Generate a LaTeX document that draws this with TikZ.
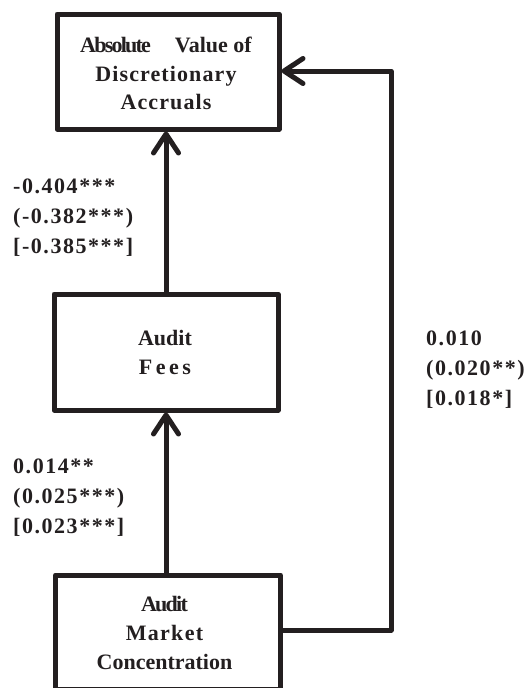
\documentclass[tikz,border=0pt]{standalone}
\usepackage{fontspec}
\setmainfont{Liberation Serif}
\usetikzlibrary{arrows.meta}
\definecolor{ink}{HTML}{231F20}
% letter-spaced run of text
\newcommand\trk[2]{{\addfontfeature{LetterSpace=#1}#2}}
\tikzset{
  boxframe/.style={draw=ink, line width=5pt, line join=round, minimum width=#1},
  boxtext/.style={anchor=base, inner sep=0pt, text=ink, font=\bfseries\fontsize{22}{29}\selectfont},
  coef/.style={anchor=base west, inner sep=0pt, text=ink, font=\bfseries\fontsize{22}{30}\selectfont},
  link/.style={draw=ink, line width=5pt, line join=round,
    -{Straight Barb[length=19pt,width=25pt,round]}}
}
\begin{document}
\begin{tikzpicture}[x=1pt,y=-1pt]
\useasboundingbox (0,0) rectangle (525,688);
\clip (0,0) rectangle (525,688);

% boxes
\node[boxframe=222pt, minimum height=115pt] (dacc) at (168,71.5) {};
\node[boxframe=224pt, minimum height=116pt] (fees) at (166,352) {};
\node[boxframe=225pt, minimum height=114.5pt, anchor=north] (amc) at (167.8,572.5) {};

% box texts
\node[boxtext] (dacctext) at (166,52) {\begin{tabular}[t]{@{}c@{}}
  \trk{-8}{Absolute}\hspace{24pt}Value of\\
  \trk{5}{Discretionary}\\
  \trk{5}{Accruals}\end{tabular}};
\node[boxtext] (feestext) at (165,345) {\begin{tabular}[t]{@{}c@{}}
  Audit\\ \trk{16}{Fees}\end{tabular}};
\node[boxtext] (amctext) at (164.5,611) {\begin{tabular}[t]{@{}c@{}}
  \trk{-8}{Audit}\\ \trk{6}{Market}\\ Concentration\end{tabular}};

% paths
\coordinate (turnlow) at (391,630);
\coordinate (turnhigh) at (391,71);
\draw[link] (fees.north) -- (fees.north |- dacc.south);
\draw[link] (amc.north -| fees.south) -- (fees.south);
\draw[link] (amc.east |- turnlow) -- (turnlow) -- (turnhigh) -- (dacc.east |- turnhigh);

% coefficients
\node[coef] (c1) at (13,193) {\trk{7}{\begin{tabular}[t]{@{}l@{}}
  -0.404***\\ (-0.382***)\\ {[}-0.385***]\end{tabular}}};
\node[coef] (c2) at (13,473) {\trk{7}{\begin{tabular}[t]{@{}l@{}}
  0.014**\\ (0.025***)\\ {[}0.023***]\end{tabular}}};
\node[coef] (c3) at (426,345) {\trk{7}{\begin{tabular}[t]{@{}l@{}}
  0.010\\ (0.020**)\\ {[}0.018*]\end{tabular}}};
\end{tikzpicture}
\end{document}
